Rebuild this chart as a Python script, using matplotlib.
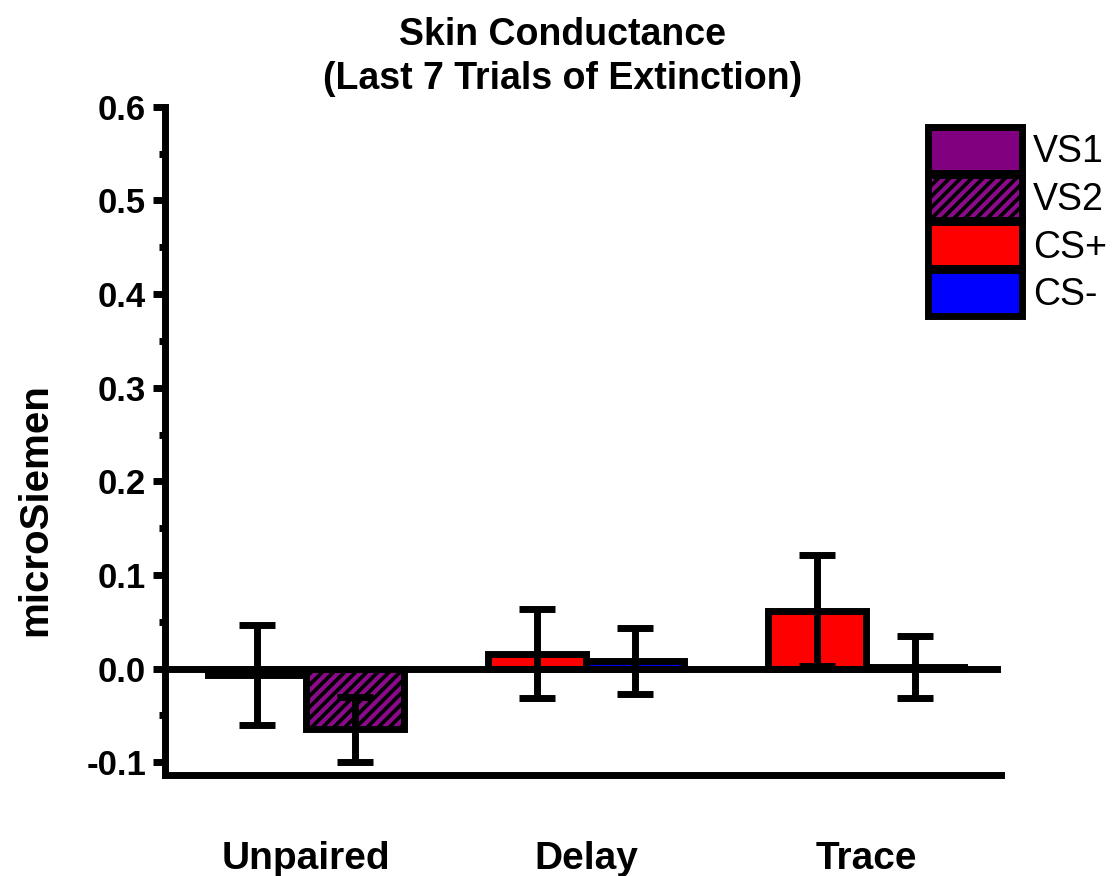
import numpy as np
import matplotlib.pyplot as plt
from matplotlib.patches import Patch
from matplotlib.legend_handler import HandlerTuple
from matplotlib.ticker import MultipleLocator

plt.rcParams['font.family'] = ['Liberation Sans', 'DejaVu Sans']
plt.rcParams['hatch.linewidth'] = 3.0

# --- data ---
groups = ['Unpaired', 'Delay', 'Trace']
# first bar of each group, second bar of each group
first_vals = [-0.007, 0.016, 0.062]
first_errs = [0.053, 0.048, 0.059]
second_vals = [-0.065, 0.008, 0.002]
second_errs = [0.035, 0.035, 0.033]
first_kind = ['VS1', 'CS+', 'CS+']
second_kind = ['VS2', 'CS-', 'CS-']

colors = {'VS1': '#800080', 'VS2': '#8a0a8a', 'CS+': '#ff0000', 'CS-': '#0000ff'}
hatched = {'VS2'}

LW = 5
w = 0.35

fig, ax = plt.subplots(figsize=(11.18, 8.76), dpi=100)
fig.subplots_adjust(left=0.148, right=0.895, top=0.878, bottom=0.115)

x = np.arange(len(groups))


def draw_bar(xpos, val, err, kind):
    if kind in hatched:
        # black ground with purple stripes
        ax.bar(xpos, val, w, color='black', edgecolor=colors[kind], hatch='///',
               linewidth=0, zorder=2)
        ax.bar(xpos, val, w, color='none', edgecolor='black', linewidth=LW, zorder=3)
    else:
        ax.bar(xpos, val, w, color=colors[kind], edgecolor='black', linewidth=LW, zorder=3)
    ax.errorbar(xpos, val, yerr=err, fmt='none', ecolor='black', elinewidth=LW,
                capsize=13, capthick=LW, zorder=4)


for i in range(len(groups)):
    draw_bar(x[i] - w / 2, first_vals[i], first_errs[i], first_kind[i])
    draw_bar(x[i] + w / 2, second_vals[i], second_errs[i], second_kind[i])

ax.axhline(0, color='black', linewidth=LW, zorder=5)

ax.set_xlim(-0.5, 2.48)

# --- axes styling ---
ax.spines['top'].set_visible(False)
ax.spines['right'].set_visible(False)
for s in ['left', 'bottom']:
    ax.spines[s].set_linewidth(LW)

ax.yaxis.set_minor_locator(MultipleLocator(0.05))
ax.tick_params(axis='y', which='major', direction='out', length=9, width=LW,
               labelsize=25, pad=5)
ax.tick_params(axis='y', which='minor', direction='out', length=4, width=LW)
yticks = np.arange(-0.1, 0.61, 0.1)
ax.set_yticks(yticks)
ax.set_yticklabels([f'{v:.1f}' for v in yticks], fontweight='bold')
ax.set_ylim(-0.114, 0.6)

ax.set_xticks(x)
ax.set_xticklabels(groups, fontsize=28, fontweight='bold')
ax.tick_params(axis='x', length=0, pad=47)

ax.set_ylabel('microSiemen', fontsize=29, fontweight='bold')
ax.yaxis.set_label_coords(-0.133, 0.397)
fig.text(0.503, 1 - 57 / 876, 'Skin Conductance\n(Last 7 Trials of Extinction)',
         fontsize=27, fontweight='bold', ha='center', va='center', linespacing=1.32)

# --- legend ---
handles = [
    Patch(facecolor=colors['VS1'], edgecolor='black', linewidth=LW),
    (Patch(facecolor='black', edgecolor=colors['VS2'], hatch='///', linewidth=0),
     Patch(facecolor='none', edgecolor='black', linewidth=LW)),
    Patch(facecolor=colors['CS+'], edgecolor='black', linewidth=LW),
    Patch(facecolor=colors['CS-'], edgecolor='black', linewidth=LW),
]
labels = ['VS1', 'VS2', 'CS+', 'CS-']
fig.legend(handles, labels, loc='upper left', bbox_to_anchor=(928 / 1118, 1 - 127 / 876),
           frameon=False, fontsize=27, handlelength=2.5, handleheight=1.5,
           labelspacing=0.05, handletextpad=0.3, borderaxespad=0, borderpad=0,
           handler_map={tuple: HandlerTuple(ndivide=1)})

plt.savefig('out.png', dpi=100)
